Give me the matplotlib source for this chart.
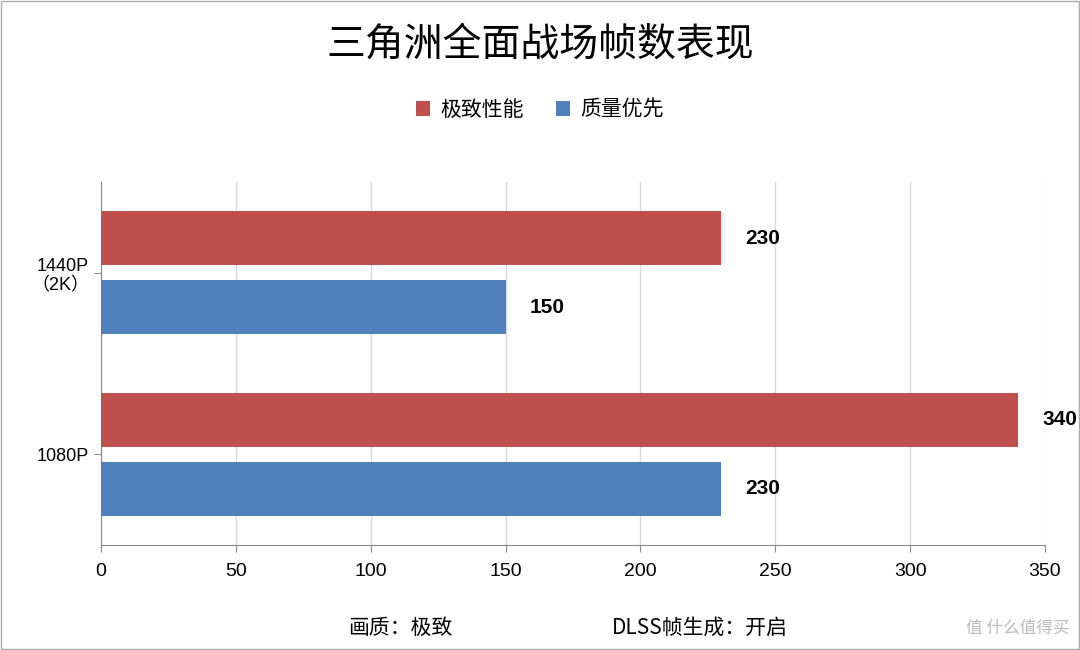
import numpy as np
import matplotlib.pyplot as plt

plt.rcParams['font.family'] = ['Noto Sans CJK SC', 'DejaVu Sans']

categories = ["1080P", "1440P\n（2K）"]
extreme = [340, 230]   # 极致性能
quality = [230, 150]   # 质量优先
series_names = ["极致性能", "质量优先"]
xticks = [0, 50, 100, 150, 200, 250, 300, 350]

fig = plt.figure(figsize=(10.8, 6.5), dpi=100)
ax = fig.add_axes([101/1080, 1-545/650, (1045-101)/1080, (545-182)/650])

y = np.array([0.5, 1.5])
h = 0.30
off = 0.19
red, blue = "#C0504D", "#4F81BD"
ax.barh(y + off, extreme, height=h, color=red, label=series_names[0], zorder=3)
ax.barh(y - off, quality, height=h, color=blue, label=series_names[1], zorder=3)

for yy, v in zip(y + off, extreme):
    ax.text(v + 9, yy, str(v), va="center", ha="left", fontsize=15, fontweight="bold",
            family="Liberation Sans")
for yy, v in zip(y - off, quality):
    ax.text(v + 9, yy, str(v), va="center", ha="left", fontsize=15, fontweight="bold",
            family="Liberation Sans")

ax.set_xlim(0, 350)
ax.set_ylim(0, 2)
ax.set_xticks(xticks)
ax.set_xticklabels([str(t) for t in xticks], fontsize=14, family="Liberation Sans")
ax.set_yticks(y)
ax.set_yticklabels(categories, fontsize=13, family=["Liberation Sans", "Noto Sans CJK SC"])
ax.tick_params(axis="y", length=5, color="#888888")
ax.tick_params(axis="x", length=5, color="#888888", direction="out", pad=8)
ax.grid(axis="x", color="#d9d9d9", linewidth=1, zorder=0)
for s in ["top", "right"]:
    ax.spines[s].set_visible(False)
for s in ["left", "bottom"]:
    ax.spines[s].set_color("#888888")

fig.text(0.5, 1-45/650, "三角洲全面战场帧数表现", ha="center", va="center", fontsize=28)
ax.legend(loc="center", bbox_to_anchor=(0.5, 1-110/650), bbox_transform=fig.transFigure,
          ncol=2, frameon=False, fontsize=15, handlelength=0.7, handleheight=0.7,
          columnspacing=1.5, handletextpad=0.5)
fig.text(400/1080, 1-628/650, "画质：极致", ha="center", va="center", fontsize=15)
fig.text(700/1080, 1-628/650, "DLSS帧生成：开启", ha="center", va="center", fontsize=15)
fig.text(1070/1080, 1-628/650, "值 什么值得买", ha="right", va="center", fontsize=12,
         color="#bbbbbb")

fig.patches.append(plt.Rectangle((0.001, 0.001), 0.998, 0.998, transform=fig.transFigure,
                                 fill=False, edgecolor="#aaaaaa", linewidth=1))
fig.savefig("out.png", dpi=100)
